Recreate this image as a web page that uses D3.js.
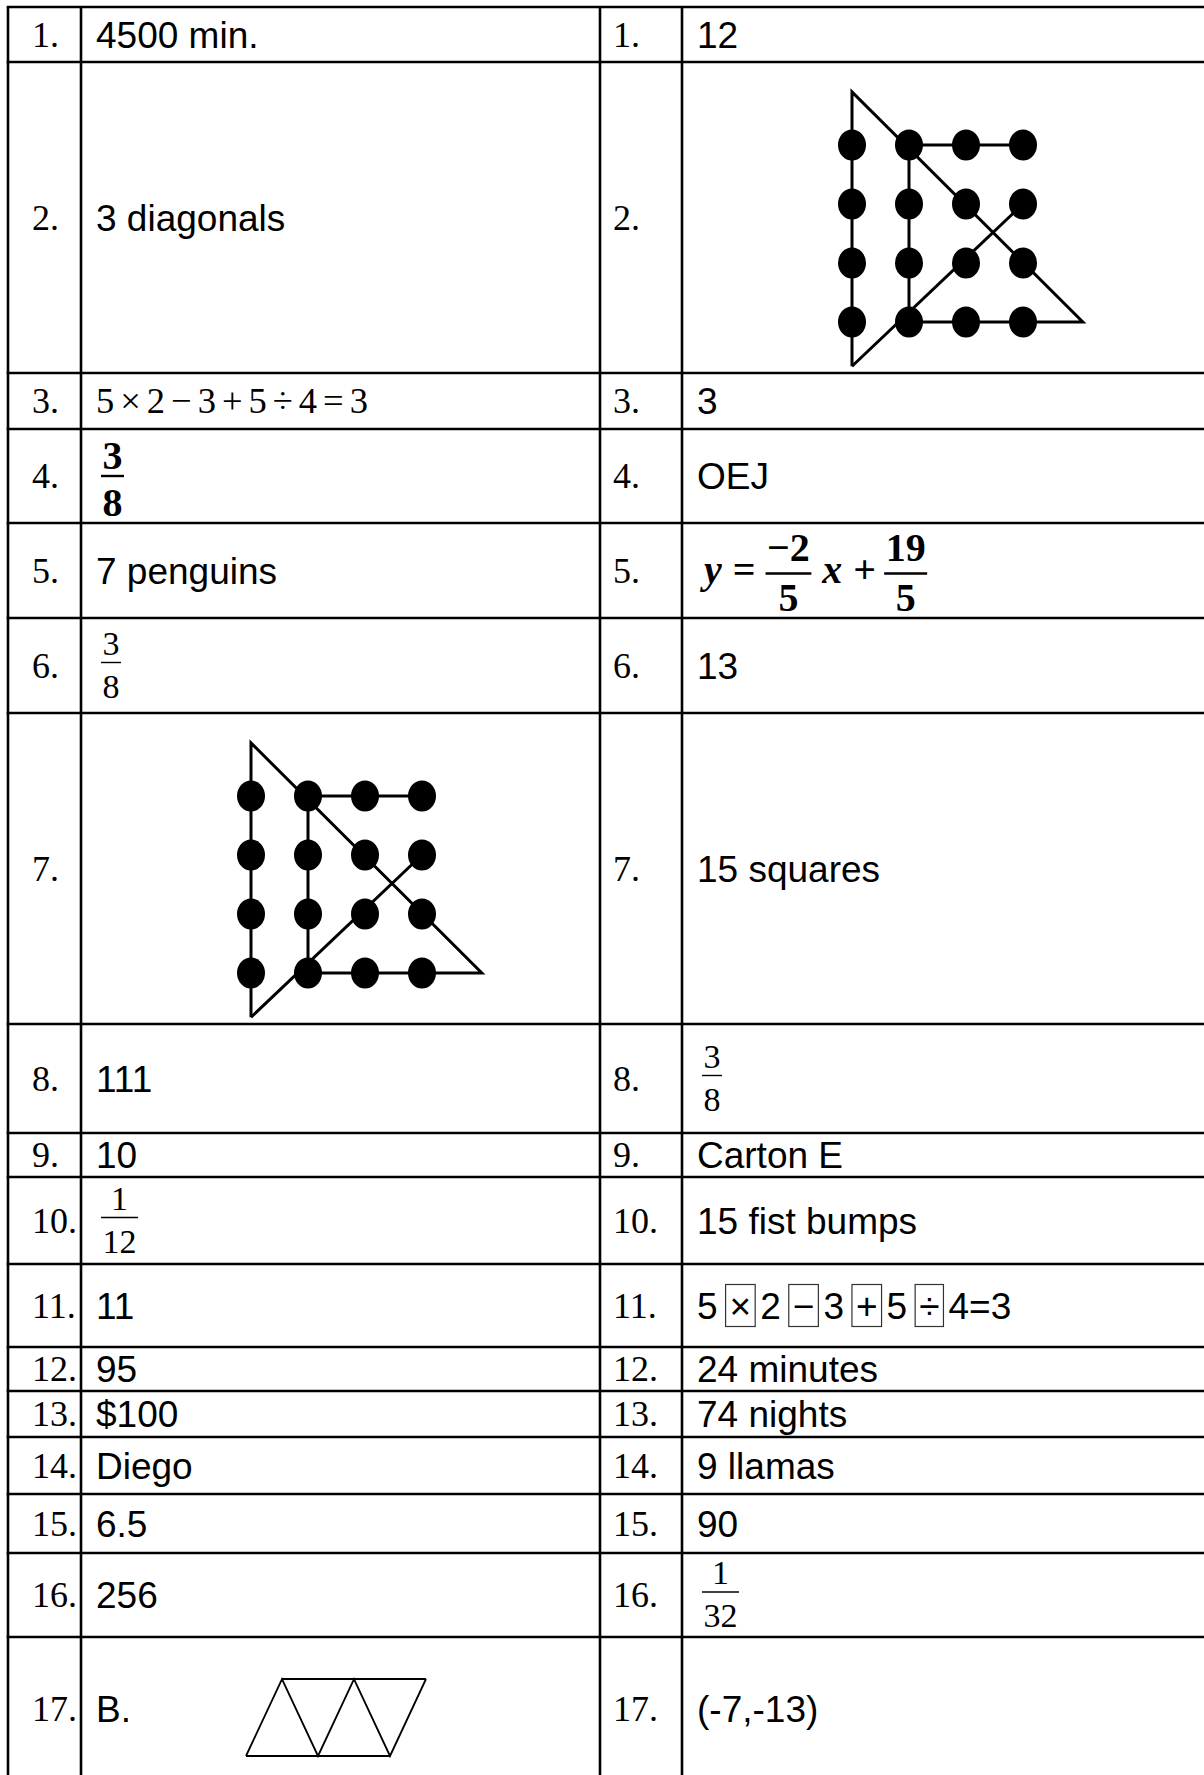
<!DOCTYPE html>
<html>
<head>
<meta charset="utf-8">
<script src="https://cdn.jsdelivr.net/npm/d3@7"></script>
<style>
  html, body { margin: 0; padding: 0; background: #fff; }
  svg { display: block; }
</style>
</head>
<body>
<svg id="chart" width="1204" height="1775"></svg>
<script>
// Номера задач (1..17), общие для обеих колонок
const items = d3.range(1, 18);

// Ответы левой колонки
const leftAnswers = [
  { type: "text", s: "4500 min." },
  { type: "text", s: "3 diagonals" },
  { type: "expr", s: ["5", "×", "2", "−", "3", "+", "5", "÷", "4", "=", "3"] },
  { type: "frac", num: "3", den: "8", bold: true },
  { type: "text", s: "7 penguins" },
  { type: "frac", num: "3", den: "8" },
  { type: "dots" },
  { type: "text", s: "111" },
  { type: "text", s: "10" },
  { type: "frac", num: "1", den: "12" },
  { type: "text", s: "11" },
  { type: "text", s: "95" },
  { type: "text", s: "$100" },
  { type: "text", s: "Diego" },
  { type: "text", s: "6.5" },
  { type: "text", s: "256" },
  { type: "tri", s: "B." }
];

// Ответы правой колонки
const rightAnswers = [
  { type: "text", s: "12" },
  { type: "dots" },
  { type: "text", s: "3" },
  { type: "text", s: "OEJ" },
  { type: "eq", slope: ["−2", "5"], icpt: ["19", "5"] },
  { type: "text", s: "13" },
  { type: "text", s: "15 squares" },
  { type: "frac", num: "3", den: "8" },
  { type: "text", s: "Carton E" },
  { type: "text", s: "15 fist bumps" },
  { type: "boxed", s: ["5", "×", "2", "−", "3", "+", "5", "÷", "4=3"] },
  { type: "text", s: "24 minutes" },
  { type: "text", s: "74 nights" },
  { type: "text", s: "9 llamas" },
  { type: "text", s: "90" },
  { type: "frac", num: "1", den: "32" },
  { type: "text", s: "(-7,-13)" }
];

// Рисунок 16 точек: сетка 4x4 и ломаная из 6 отрезков (в единицах сетки)
const dotCols = [0, 1, 2, 3];
const dotRows = [0, 1, 2, 3];
const dotPath = [[0, 3.75], [0, -0.9], [4.05, 3], [1, 3], [1, 0], [3, 0]];
const dotCross = [[0, 3.75], [3, 1]];

// Полоса из треугольников (ответ B.)
const triBottom = [[0, 0], [1, 0], [2, 0]];
const triTop = [[0.5, 1], [1.5, 1], [2.5, 1]];

// ---- раскладка ----
const rowEdges = [7, 62, 373, 429, 523, 618, 713, 1024, 1133, 1177, 1264, 1347, 1391, 1437, 1494, 1553, 1637, 1780];
const colEdges = [8, 81, 600, 682, 1206];

const serif = "'Liberation Serif', 'Times New Roman', serif";
const sans = "'Liberation Sans', Arial, sans-serif";
const sansSize = 37;

const svg = d3.select("#chart");

// Шкалы: индекс строки -> y, индекс колонки -> x
const y = d3.scaleLinear().domain(d3.range(rowEdges.length)).range(rowEdges);
const x = d3.scaleLinear().domain(d3.range(colEdges.length)).range(colEdges);

// Сетка таблицы
const grid = svg.append("g").attr("stroke", "#000").attr("stroke-width", 2.6);
grid.selectAll("line.h")
  .data(d3.range(rowEdges.length))
  .enter().append("line")
  .attr("x1", x(0) - 1.3).attr("x2", x(4))
  .attr("y1", d => y(d)).attr("y2", d => y(d));
grid.selectAll("line.v")
  .data(d3.range(colEdges.length))
  .enter().append("line")
  .attr("x1", d => x(d)).attr("x2", d => x(d))
  .attr("y1", y(0)).attr("y2", y(rowEdges.length - 1));

// Номера задач
const numX = [x(0) + 24, x(2) + 13];
[0, 1].forEach(side => {
  svg.append("g").selectAll("text")
    .data(items)
    .enter().append("text")
    .attr("x", numX[side])
    .attr("y", (d, i) => y(i + 0.5) + 12)
    .attr("font-family", serif)
    .attr("font-size", 36)
    .text(d => d + ".");
});

function addText(g, s, xx, yy, fam, fs, extra) {
  const t = g.append("text").attr("x", xx).attr("y", yy)
    .attr("font-family", fam).attr("font-size", fs).text(s);
  if (extra) Object.entries(extra).forEach(([k, v]) => t.attr(k, v));
  return t;
}

// Дробь: числитель, черта, знаменатель
function drawFrac(g, x0, barY, num, den, fs, bold, upGap, downGap) {
  const w8 = bold ? "bold" : "normal";
  const tn = addText(g, num, x0, barY - upGap, serif, fs, { "font-weight": w8 });
  const td = addText(g, den, x0, barY + downGap, serif, fs, { "font-weight": w8 });
  const wn = tn.node().getComputedTextLength();
  const wd = td.node().getComputedTextLength();
  const w = Math.max(wn, wd) + 3;
  tn.attr("x", x0 + (w - wn) / 2);
  td.attr("x", x0 + (w - wd) / 2);
  g.append("line").attr("x1", x0).attr("x2", x0 + w)
    .attr("y1", barY).attr("y2", barY)
    .attr("stroke", "#000").attr("stroke-width", bold ? 2.4 : 1.4);
  return w;
}

function drawDots(g, ox, oy) {
  const gx = d3.scaleLinear().domain([0, 1]).range([ox, ox + 57]);
  const gy = d3.scaleLinear().domain([0, 1]).range([oy, oy + 59]);
  const line = d3.line().x(d => gx(d[0])).y(d => gy(d[1]));
  g.append("path").attr("d", line(dotPath))
    .attr("fill", "none").attr("stroke", "#000").attr("stroke-width", 3)
    .attr("stroke-linejoin", "miter");
  g.append("path").attr("d", line(dotCross))
    .attr("fill", "none").attr("stroke", "#000").attr("stroke-width", 3);
  const pts = dotRows.flatMap(r => dotCols.map(c => [c, r]));
  g.selectAll("ellipse").data(pts).enter().append("ellipse")
    .attr("cx", d => gx(d[0])).attr("cy", d => gy(d[1]))
    .attr("rx", 14).attr("ry", 15.5).attr("fill", "#000");
}

function drawTri(g, ox, oy) {
  const tx = d3.scaleLinear().domain([0, 1]).range([ox, ox + 72]);
  const ty = d3.scaleLinear().domain([0, 1]).range([oy, oy - 77]);
  const zig = [triBottom[0], triTop[0], triBottom[1], triTop[1], triBottom[2], triTop[2]];
  const line = d3.line().x(d => tx(d[0])).y(d => ty(d[1]));
  const st = p => p.attr("fill", "none").attr("stroke", "#000").attr("stroke-width", 1.8);
  st(g.append("path").attr("d", line(zig)));
  st(g.append("path").attr("d", line([triBottom[0], triBottom[2]])));
  st(g.append("path").attr("d", line([triTop[0], triTop[2]])));
}

function drawAnswer(ans, row, side) {
  const g = svg.append("g");
  const left = x(side * 2 + 1);
  const top = y(row), mid = y(row + 0.5);
  const tx = left + 15;
  if (ans.type === "text") {
    addText(g, ans.s, tx, mid + 13, sans, sansSize);
  } else if (ans.type === "frac") {
    if (ans.bold) drawFrac(g, left + 20, mid, ans.num, ans.den, 40, true, 7, 40);
    else drawFrac(g, left + 20, mid - 3, ans.num, ans.den, 34, false, 8, 35);
  } else if (ans.type === "dots") {
    drawDots(g, left + 170, top + 83);
  } else if (ans.type === "tri") {
    addText(g, ans.s, tx, mid + 13, sans, sansSize);
    drawTri(g, left + 165, top + 119);
  } else if (ans.type === "expr") {
    let cx = tx;
    ans.s.forEach((tok, i) => {
      const isOp = i % 2 === 1;
      if (isOp) cx += 6;
      const t = addText(g, tok, cx, mid + 12, serif, 36.5);
      cx += t.node().getComputedTextLength() + (isOp ? 6 : 0);
    });
  } else if (ans.type === "boxed") {
    let cx = tx;
    ans.s.forEach((tok, i) => {
      const isOp = i % 2 === 1;
      if (isOp) {
        cx += 6;
        const t = addText(g, tok, cx + 4, mid + 13, sans, sansSize);
        const w = t.node().getComputedTextLength() + 8;
        g.append("rect").attr("x", cx).attr("y", mid - 21).attr("width", w).attr("height", 42)
          .attr("fill", "none").attr("stroke", "#333").attr("stroke-width", 1.2);
        cx += w + 5;
      } else {
        const t = addText(g, tok, cx, mid + 13, sans, sansSize);
        cx += t.node().getComputedTextLength() + 2;
      }
    });
  } else if (ans.type === "eq") {
    const bar = mid + 3;
    const fs = 40;
    const it = { "font-weight": "bold", "font-style": "italic" };
    const bd = { "font-weight": "bold" };
    let cx = tx + 7;
    let t = addText(g, "y", cx, bar + 9, serif, fs, it);
    cx += t.node().getComputedTextLength() + 11;
    t = addText(g, "=", cx, bar + 9, serif, fs, bd);
    cx += t.node().getComputedTextLength() + 10;
    cx += drawFrac(g, cx, bar, ans.slope[0], ans.slope[1], fs, true, 13, 37) + 11;
    t = addText(g, "x", cx, bar + 9, serif, fs, it);
    cx += t.node().getComputedTextLength() + 11;
    t = addText(g, "+", cx, bar + 9, serif, fs, bd);
    cx += t.node().getComputedTextLength() + 8;
    drawFrac(g, cx, bar, ans.icpt[0], ans.icpt[1], fs, true, 13, 37);
  }
}

leftAnswers.forEach((a, i) => drawAnswer(a, i, 0));
rightAnswers.forEach((a, i) => drawAnswer(a, i, 1));
</script>
</body>
</html>
